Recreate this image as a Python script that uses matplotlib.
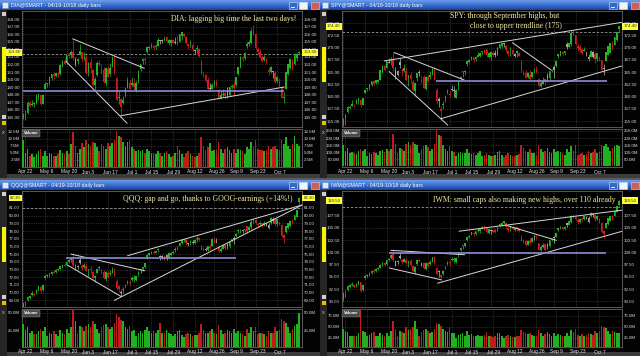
import matplotlib.pyplot as plt
import numpy as np
import pandas as pd
import matplotlib.transforms as mtransforms
from matplotlib.patches import Rectangle
from matplotlib.colors import LinearSegmentedColormap
from matplotlib.ticker import FuncFormatter

plt.rcParams['font.family'] = ['Liberation Sans', 'DejaVu Sans']

# trading days 04/19 - 10/18 (2013)
holidays = ['2013-05-27', '2013-07-04', '2013-09-02']
days = pd.bdate_range('2013-04-19', '2013-10-18', freq='C', holidays=holidays)
date_labels = ['2013-04-22', '2013-05-06', '2013-05-20', '2013-06-03', '2013-06-17',
               '2013-07-01', '2013-07-15', '2013-07-29', '2013-08-12', '2013-08-26',
               '2013-09-09', '2013-09-23', '2013-10-07']

# ---- DIA ----
dia_open = [144.9, 145.2, 145.5, 146.9, 146.6, 146.7, 146.9, 147.9, 148.0, 146.8,
            148.8, 149.4, 149.5, 150.2, 150.7, 150.5, 150.8, 150.7, 151.8, 152.5,
            152.3, 153.2, 153.2, 153.7, 152.0, 152.4, 153.3, 153.6, 152.8, 152.8,
            151.0, 152.3, 151.3, 149.3, 150.6, 152.2, 151.4, 151.3, 149.6, 151.4,
            150.7, 151.6, 152.9, 150.2, 147.6, 147.4, 146.9, 147.8, 148.9, 149.6,
            149.3, 149.5, 148.6, 150.2, 151.4, 152.4, 152.7, 153.6, 154.2, 154.4,
            154.5, 154.3, 154.5, 155.1, 155.2, 155.2, 155.6, 154.9, 154.9, 155.2,
            155.0, 155.0, 155.0, 155.8, 156.1, 155.7, 154.7, 154.7, 154.6, 153.8,
            154.0, 154.1, 152.5, 150.8, 150.6, 149.9, 148.8, 148.8, 149.4, 149.7,
            148.6, 147.5, 147.9, 148.2, 148.5, 148.0, 149.0, 149.3, 149.3, 150.8,
            151.6, 152.9, 152.8, 154.5, 154.7, 154.9, 156.6, 156.0, 154.1, 153.7,
            153.0, 152.6, 152.7, 151.3, 151.0, 151.0, 150.9, 149.8, 149.8, 149.0,
            147.6, 148.8, 150.8, 151.5, 152.6, 152.0, 152.8, 153.5]
dia_high = [145.6, 145.9, 147.2, 147.1, 147.3, 147.0, 148.1, 148.2, 148.1, 148.1,
            149.7, 149.6, 150.4, 150.8, 151.0, 150.9, 151.0, 152.0, 152.6, 152.8,
            153.3, 153.6, 153.9, 155.3, 153.0, 152.8, 154.7, 153.7, 153.6, 153.2,
            152.3, 152.8, 151.4, 150.3, 152.4, 152.6, 152.0, 151.6, 151.6, 151.8,
            152.2, 153.1, 153.1, 150.4, 148.6, 147.5, 147.8, 149.0, 150.3, 150.0,
            150.3, 150.2, 149.8, 151.3, 152.1, 152.9, 153.0, 154.4, 154.5, 154.8,
            154.6, 154.7, 155.5, 155.3, 155.4, 155.8, 155.8, 155.4, 155.4, 155.4,
            155.6, 155.9, 156.1, 156.3, 156.2, 155.8, 154.8, 155.2, 154.9, 154.1,
            154.6, 154.2, 152.6, 151.1, 150.9, 150.3, 149.6, 149.5, 149.9, 150.1,
            148.7, 148.5, 148.7, 148.3, 149.0, 149.1, 149.4, 149.8, 150.4, 151.7,
            153.1, 153.1, 153.6, 155.0, 155.2, 156.9, 157.3, 156.2, 154.3, 154.0,
            153.3, 153.3, 152.9, 151.7, 151.8, 151.2, 151.1, 150.5, 150.2, 149.2,
            148.3, 151.0, 152.1, 152.8, 152.7, 153.5, 153.5, 153.8]
dia_low = [144.7, 144.6, 145.4, 146.4, 146.5, 146.3, 146.8, 147.3, 146.6, 146.7,
           148.7, 149.0, 149.3, 150.0, 150.1, 150.3, 150.3, 150.6, 151.6, 151.9,
           152.0, 152.9, 152.8, 152.6, 151.8, 152.0, 153.2, 152.3, 152.6, 150.8,
           150.5, 150.9, 149.2, 148.6, 150.5, 151.8, 150.7, 149.6, 149.2, 150.3,
           150.5, 151.6, 150.7, 147.2, 146.8, 145.2, 146.7, 147.7, 148.9, 148.7,
           149.1, 148.6, 148.3, 149.6, 151.1, 152.0, 152.1, 153.5, 153.9, 154.2,
           153.9, 154.0, 154.4, 154.7, 154.9, 155.1, 154.8, 154.6, 154.4, 154.8,
           154.7, 154.6, 155.0, 155.3, 155.6, 154.7, 154.0, 154.3, 153.8, 153.4,
           153.5, 153.0, 150.7, 150.3, 149.7, 148.6, 148.5, 148.7, 149.0, 149.1,
           147.4, 147.4, 147.7, 147.4, 147.6, 147.8, 148.8, 147.9, 149.2, 150.6,
           151.5, 152.5, 152.6, 154.2, 154.5, 154.7, 155.9, 154.1, 153.4, 152.8,
           152.3, 152.4, 152.1, 150.6, 150.9, 150.2, 149.5, 149.5, 149.0, 147.5,
           146.9, 148.7, 150.6, 151.4, 151.3, 151.9, 152.5, 153.2]
dia_close = [145.2, 145.4, 146.9, 146.5, 146.7, 146.8, 147.9, 148.1, 146.7, 148.0,
             149.4, 149.4, 150.3, 150.7, 150.5, 150.9, 150.6, 151.9, 152.5, 152.0,
             153.2, 153.1, 153.6, 152.8, 152.6, 152.7, 153.8, 152.7, 152.9, 150.9,
             152.2, 151.5, 149.3, 150.1, 152.2, 152.1, 150.9, 149.7, 151.5, 150.4,
             151.5, 152.9, 150.8, 147.3, 147.7, 146.3, 147.3, 148.8, 149.9, 148.8,
             149.5, 149.0, 149.6, 151.1, 152.0, 152.7, 152.6, 154.3, 154.3, 154.5,
             154.2, 154.4, 155.2, 155.1, 155.1, 155.4, 155.1, 155.2, 155.3, 154.9,
             154.9, 154.7, 156.0, 156.3, 155.8, 154.9, 154.4, 154.7, 154.0, 153.9,
             154.2, 153.1, 150.8, 150.5, 149.8, 148.7, 148.7, 149.3, 149.8, 149.2,
             147.5, 148.0, 148.1, 147.8, 148.0, 149.0, 149.1, 148.9, 150.3, 151.6,
             153.0, 152.7, 153.5, 154.7, 155.0, 156.5, 156.1, 154.2, 153.7, 153.0,
             152.4, 153.0, 152.3, 151.0, 151.6, 151.0, 149.7, 150.4, 149.1, 147.5,
             147.7, 151.0, 152.1, 152.7, 151.4, 153.4, 153.4, 153.6]
dia_volume = [9.5, 5.0, 6.5, 4.0, 4.5, 3.5, 4.5, 5.5, 6.5, 4.0,
              5.5, 4.0, 5.0, 4.5, 4.0, 4.0, 4.5, 6.0, 5.0, 4.5,
              5.5, 4.5, 8.0, 12.3, 7.5, 5.0, 6.5, 8.5, 7.0, 9.5,
              8.0, 7.5, 9.0, 8.5, 7.0, 5.5, 8.0, 7.5, 6.5, 8.5,
              7.5, 8.5, 9.5, 12.8, 11.0, 10.5, 9.0, 7.5, 9.0, 9.5,
              7.0, 6.5, 5.5, 6.0, 5.5, 6.0, 5.0, 6.5, 5.5, 5.0,
              5.0, 4.5, 5.5, 5.0, 4.0, 5.0, 5.5, 4.5, 3.5, 4.0,
              5.0, 7.5, 6.0, 4.5, 3.5, 5.0, 5.5, 4.5, 4.0, 3.5,
              4.0, 5.0, 10.5, 7.5, 6.0, 7.0, 8.5, 5.5, 6.0, 6.0,
              9.0, 6.5, 5.0, 6.5, 7.0, 6.0, 5.0, 6.5, 5.0, 6.5,
              6.0, 5.5, 4.5, 7.0, 6.5, 9.0, 7.0, 9.5, 6.5, 6.0,
              6.0, 5.5, 6.0, 7.5, 6.5, 7.0, 7.5, 6.5, 6.0, 9.5,
              8.0, 10.5, 7.5, 6.5, 8.0, 11.0, 8.0, 7.5]

# ---- SPY ----
spy_open = [154.2, 155.6, 156.9, 157.7, 158.0, 158.3, 158.6, 159.3, 159.4, 158.3,
            160.8, 161.5, 161.8, 162.3, 163.1, 162.8, 163.0, 163.5, 165.0, 166.2,
            165.9, 166.9, 167.2, 167.4, 164.2, 164.5, 167.0, 165.4, 165.3, 165.3,
            163.9, 164.5, 163.0, 161.2, 163.8, 165.0, 163.5, 164.1, 161.6, 164.0,
            164.1, 164.5, 165.7, 161.3, 159.6, 157.4, 158.3, 159.6, 161.0, 160.6,
            161.4, 161.2, 159.8, 162.5, 163.8, 165.0, 165.0, 166.6, 167.0, 167.7,
            168.0, 167.7, 168.2, 168.3, 169.2, 169.5, 169.8, 168.2, 168.1, 168.9,
            168.9, 168.8, 169.9, 170.3, 170.7, 170.4, 169.3, 169.5, 169.5, 168.4,
            169.0, 169.0, 167.1, 165.1, 164.8, 164.0, 164.5, 164.1, 165.5, 165.4,
            163.6, 162.2, 162.6, 163.6, 164.2, 163.8, 165.2, 166.0, 166.2, 168.4,
            168.6, 169.2, 169.0, 170.8, 170.1, 170.8, 173.0, 172.6, 170.4, 170.2,
            169.7, 169.4, 168.9, 167.6, 168.2, 168.2, 168.8, 167.6, 167.7, 167.4,
            165.9, 167.3, 168.6, 169.0, 170.7, 170.6, 171.5, 173.8]
spy_high = [155.6, 156.4, 158.0, 158.3, 159.3, 158.6, 159.6, 159.7, 159.5, 159.8,
            161.6, 161.8, 162.5, 163.2, 163.5, 163.4, 163.6, 165.5, 166.4, 166.6,
            167.3, 167.8, 168.2, 169.1, 166.1, 165.4, 167.8, 165.8, 166.6, 166.1,
            164.5, 165.0, 163.4, 162.7, 164.8, 165.4, 164.4, 164.5, 164.3, 164.4,
            165.2, 165.9, 166.0, 161.8, 159.9, 158.0, 159.1, 160.3, 161.6, 161.1,
            162.4, 162.1, 161.5, 163.2, 164.3, 165.3, 165.5, 167.2, 167.6, 168.3,
            168.1, 168.3, 169.1, 169.2, 169.3, 169.8, 169.8, 169.2, 169.2, 169.3,
            169.6, 170.1, 170.8, 171.0, 170.9, 170.5, 169.5, 170.1, 169.8, 168.9,
            169.6, 169.1, 167.4, 165.4, 165.4, 165.1, 165.4, 165.1, 165.8, 166.3,
            163.9, 163.3, 164.1, 163.7, 164.9, 165.3, 165.7, 166.4, 167.5, 168.8,
            169.4, 169.3, 169.4, 171.1, 171.0, 173.6, 173.6, 172.6, 170.7, 170.7,
            170.0, 170.2, 169.2, 168.7, 169.5, 169.3, 169.2, 169.0, 168.4, 167.5,
            166.6, 169.1, 170.3, 171.0, 171.3, 172.1, 173.3, 174.4]
spy_low = [154.1, 154.3, 156.6, 157.4, 158.0, 157.8, 158.5, 158.6, 157.8, 158.2,
           160.8, 161.1, 161.4, 162.1, 162.4, 162.5, 162.8, 163.5, 164.9, 165.2,
           165.8, 166.8, 166.5, 165.3, 163.7, 164.3, 165.9, 164.2, 165.1, 163.4,
           162.2, 162.7, 161.1, 160.1, 163.3, 164.3, 162.7, 161.7, 161.3, 162.9,
           163.6, 164.5, 163.4, 158.5, 157.9, 155.7, 157.4, 159.0, 160.6, 159.9,
           161.1, 159.9, 159.7, 161.4, 163.2, 164.1, 164.5, 166.2, 166.8, 167.5,
           167.0, 167.3, 168.1, 168.1, 168.6, 168.8, 168.1, 167.8, 167.5, 168.2,
           168.2, 168.6, 169.8, 169.9, 170.2, 169.2, 168.3, 168.4, 168.5, 168.0,
           168.1, 168.3, 165.1, 164.4, 163.8, 163.8, 163.4, 163.9, 164.8, 164.9,
           162.0, 162.0, 162.5, 162.3, 162.9, 163.2, 165.0, 163.8, 166.1, 167.9,
           168.4, 168.5, 168.5, 169.8, 170.0, 170.3, 172.6, 170.6, 169.4, 169.2,
           168.8, 169.3, 168.4, 167.3, 168.1, 167.9, 166.8, 167.2, 167.3, 165.4,
           164.5, 167.2, 168.5, 168.9, 169.6, 170.5, 171.3, 173.3]
spy_close = [155.5, 156.2, 157.8, 157.8, 158.5, 158.2, 159.3, 159.7, 158.2, 159.7,
             161.4, 161.7, 162.5, 163.2, 162.6, 163.4, 163.4, 165.4, 166.3, 165.4,
             167.2, 167.0, 167.3, 165.9, 165.5, 165.3, 166.5, 165.2, 165.8, 163.5,
             164.4, 163.6, 161.3, 162.7, 164.8, 164.8, 163.1, 161.8, 164.1, 163.2,
             164.4, 165.7, 163.4, 159.1, 159.1, 157.1, 158.6, 160.1, 161.1, 160.4,
             161.3, 161.2, 161.3, 163.0, 164.0, 165.2, 165.2, 167.2, 167.5, 168.1,
             167.5, 168.0, 168.6, 168.9, 169.2, 168.9, 168.5, 169.0, 169.1, 168.5,
             168.5, 168.7, 170.7, 171.0, 170.7, 169.6, 168.7, 169.7, 168.8, 168.7,
             169.3, 168.4, 165.2, 164.5, 163.8, 164.8, 163.6, 165.1, 165.7, 165.0,
             162.1, 162.8, 163.1, 163.0, 163.8, 165.2, 165.4, 165.5, 167.3, 168.7,
             169.3, 168.8, 169.3, 170.1, 170.9, 173.0, 172.8, 170.7, 169.9, 169.5,
             169.0, 169.6, 168.9, 168.0, 169.3, 169.2, 167.6, 168.9, 167.4, 165.5,
             165.6, 169.1, 170.3, 171.0, 169.7, 172.1, 173.3, 174.4]
spy_volume = [150, 110, 130, 95, 100, 90, 85, 105, 120, 110,
              120, 70, 95, 85, 100, 90, 80, 110, 115, 100,
              125, 110, 120, 230, 160, 90, 130, 120, 105, 160,
              170, 150, 175, 160, 150, 90, 120, 140, 150, 135,
              110, 120, 155, 255, 220, 215, 150, 120, 110, 140,
              105, 100, 70, 95, 100, 95, 95, 120, 90, 85,
              95, 80, 90, 110, 70, 80, 95, 80, 75, 70,
              80, 100, 110, 80, 65, 80, 90, 80, 75, 70,
              80, 85, 150, 130, 110, 100, 120, 90, 95, 80,
              150, 120, 100, 110, 130, 100, 90, 120, 100, 110,
              100, 90, 80, 120, 100, 140, 110, 150, 80, 85,
              90, 80, 85, 110, 90, 100, 120, 95, 100, 150,
              145, 160, 135, 110, 130, 145, 150, 140]

# ---- QQQ ----
qqq_open = [68.0, 68.6, 69.0, 69.3, 69.7, 69.8, 69.9, 70.4, 70.7, 70.3,
            71.9, 72.1, 72.4, 72.4, 72.7, 72.7, 72.9, 73.1, 73.3, 73.6,
            73.6, 74.0, 74.3, 74.4, 73.0, 73.3, 74.2, 73.5, 73.3, 73.4,
            72.9, 73.1, 72.7, 71.9, 72.6, 73.2, 72.7, 72.7, 71.8, 72.6,
            72.4, 72.6, 73.1, 71.5, 70.9, 70.0, 70.4, 70.9, 71.2, 71.3,
            71.6, 71.8, 71.6, 72.4, 73.0, 73.1, 73.3, 74.6, 74.9, 75.2,
            75.3, 75.2, 75.5, 74.6, 74.8, 74.7, 74.9, 74.5, 74.9, 75.2,
            75.5, 75.7, 76.1, 76.5, 76.8, 76.8, 76.3, 76.6, 76.5, 76.4,
            76.9, 77.1, 76.1, 75.6, 75.6, 75.5, 75.9, 76.1, 77.0, 76.7,
            75.9, 75.4, 75.7, 76.2, 76.3, 76.0, 76.7, 77.1, 77.3, 78.0,
            78.0, 78.0, 78.1, 78.6, 78.1, 78.5, 79.3, 79.4, 78.9, 78.9,
            79.0, 78.8, 78.8, 78.4, 79.0, 79.3, 79.6, 78.9, 79.0, 78.8,
            77.5, 77.9, 78.4, 78.6, 79.3, 79.4, 79.8, 81.8]
qqq_high = [68.7, 68.9, 69.5, 69.7, 70.2, 69.9, 70.5, 70.9, 70.8, 71.1,
            72.3, 72.4, 72.5, 72.8, 73.0, 73.1, 73.2, 73.5, 73.7, 73.8,
            74.1, 74.4, 74.6, 75.1, 73.8, 73.6, 74.6, 73.7, 73.9, 73.8,
            73.1, 73.5, 72.8, 72.3, 73.2, 73.4, 73.1, 72.9, 72.8, 72.8,
            72.9, 73.3, 73.2, 71.8, 71.0, 70.3, 70.7, 71.1, 71.6, 71.6,
            72.1, 72.3, 72.2, 72.8, 73.1, 73.4, 73.9, 75.0, 75.2, 75.4,
            75.5, 75.5, 75.8, 74.9, 74.9, 74.8, 75.0, 75.2, 75.3, 75.5,
            75.9, 76.0, 76.6, 76.9, 77.0, 76.9, 76.5, 76.8, 76.8, 76.9,
            77.3, 77.2, 76.2, 75.9, 75.9, 76.1, 76.3, 77.1, 77.2, 77.1,
            76.0, 75.9, 76.3, 76.3, 76.5, 76.7, 77.0, 77.3, 77.7, 78.2,
            78.2, 78.3, 78.3, 78.7, 78.6, 79.4, 79.6, 79.5, 79.1, 79.3,
            79.1, 79.3, 79.1, 79.0, 79.8, 79.8, 79.7, 79.5, 79.3, 78.9,
            77.6, 78.6, 79.1, 79.4, 79.6, 80.1, 80.8, 82.4]
qqq_low = [67.9, 68.2, 68.9, 69.2, 69.6, 69.5, 69.8, 70.2, 70.0, 70.2,
           71.8, 72.0, 72.0, 72.3, 72.5, 72.6, 72.8, 73.0, 73.2, 73.3,
           73.5, 73.9, 74.0, 73.4, 72.9, 73.1, 73.7, 73.0, 73.2, 72.8,
           72.2, 72.6, 71.8, 71.4, 72.5, 72.9, 72.4, 71.8, 71.5, 71.9,
           72.1, 72.5, 72.1, 70.4, 70.1, 69.6, 70.0, 70.6, 71.1, 71.0,
           71.5, 71.4, 71.5, 72.2, 72.6, 72.8, 73.2, 74.4, 74.8, 75.0,
           75.0, 75.1, 75.3, 74.3, 74.4, 74.2, 74.3, 74.4, 74.7, 75.0,
           75.3, 75.5, 76.0, 76.3, 76.6, 76.2, 76.0, 76.2, 76.3, 76.3,
           76.6, 76.7, 75.5, 75.4, 75.4, 75.4, 75.6, 76.0, 76.5, 76.5,
           75.3, 75.3, 75.7, 75.5, 75.7, 75.8, 76.6, 76.3, 77.2, 77.8,
           77.8, 77.8, 77.9, 77.8, 78.0, 78.2, 79.1, 78.9, 78.5, 78.7,
           78.5, 78.7, 78.6, 78.3, 78.9, 79.1, 78.6, 78.7, 78.8, 77.2,
           76.5, 77.8, 78.3, 78.5, 78.9, 79.4, 79.8, 81.5]
qqq_close = [68.6, 68.8, 69.4, 69.5, 69.9, 69.7, 70.4, 70.8, 70.2, 71.0,
             72.1, 72.3, 72.4, 72.7, 72.6, 73.0, 73.1, 73.4, 73.6, 73.4,
             74.0, 74.2, 74.3, 73.6, 73.6, 73.5, 73.8, 73.2, 73.6, 72.8,
             73.0, 72.9, 71.9, 72.2, 73.1, 73.2, 72.5, 71.9, 72.7, 72.0,
             72.5, 73.1, 72.2, 70.6, 70.5, 70.0, 70.5, 70.9, 71.4, 71.2,
             71.9, 71.9, 72.1, 72.7, 72.9, 73.3, 73.8, 74.9, 75.1, 75.3,
             75.1, 75.4, 75.6, 74.6, 74.6, 74.3, 74.5, 75.1, 75.2, 75.3,
             75.6, 75.7, 76.5, 76.8, 76.9, 76.4, 76.3, 76.6, 76.5, 76.8,
             77.1, 76.8, 75.6, 75.5, 75.5, 76.0, 75.8, 76.9, 76.6, 76.6,
             75.4, 75.7, 76.1, 75.8, 76.0, 76.6, 76.9, 77.0, 77.6, 78.1,
             78.1, 78.0, 78.2, 78.0, 78.5, 79.2, 79.4, 79.0, 78.8, 79.0,
             78.6, 79.1, 78.9, 78.8, 79.7, 79.6, 78.9, 79.5, 78.9, 77.3,
             77.1, 78.6, 79.0, 79.3, 79.0, 80.1, 80.7, 82.3]
qqq_volume = [35, 26, 30, 22, 25, 20, 20, 25, 28, 24,
              30, 18, 22, 20, 24, 20, 18, 26, 22, 20,
              28, 22, 30, 55, 38, 22, 32, 30, 25, 32,
              35, 30, 38, 35, 28, 22, 30, 33, 35, 30,
              28, 30, 36, 49, 45, 40, 38, 30, 28, 32,
              25, 26, 18, 22, 24, 22, 26, 30, 24, 22,
              24, 22, 26, 36, 22, 22, 26, 22, 20, 18,
              20, 24, 26, 19, 16, 20, 22, 21, 18, 19,
              19, 22, 34, 26, 22, 22, 25, 28, 22, 20,
              33, 26, 20, 22, 26, 24, 22, 28, 22, 25,
              22, 20, 18, 28, 22, 30, 24, 30, 20, 22,
              22, 20, 18, 24, 22, 22, 30, 24, 26, 42,
              38, 36, 30, 22, 28, 32, 35, 50]

# ---- IWM ----
iwm_open = [90.4, 91.8, 92.3, 93.0, 93.4, 93.4, 93.2, 93.6, 93.9, 92.3,
            94.8, 95.1, 95.5, 95.8, 96.2, 96.1, 96.5, 96.8, 97.4, 97.8,
            97.7, 98.4, 98.8, 99.6, 97.5, 98.0, 99.3, 98.5, 98.1, 98.4,
            97.9, 98.2, 97.3, 96.0, 97.6, 98.5, 97.4, 97.8, 96.5, 97.8,
            97.7, 98.1, 99.0, 96.8, 96.0, 95.3, 95.6, 96.7, 97.6, 97.9,
            98.4, 98.4, 98.0, 99.5, 100.4, 101.2, 101.2, 102.6, 103.1, 103.6,
            104.0, 103.8, 104.4, 104.4, 104.9, 105.3, 105.0, 103.9, 104.3, 104.5,
            104.5, 104.4, 105.3, 105.6, 105.9, 106.0, 104.9, 105.1, 105.0, 104.5,
            105.2, 104.9, 103.4, 102.3, 102.2, 101.5, 102.2, 102.1, 103.2, 103.0,
            101.8, 100.5, 101.0, 101.6, 101.4, 101.3, 102.6, 103.0, 103.2, 104.5,
            104.9, 105.1, 104.8, 105.9, 105.6, 106.2, 107.5, 107.2, 106.6, 106.2,
            106.8, 106.7, 107.0, 106.2, 107.3, 107.6, 107.7, 106.7, 106.7, 105.9,
            104.3, 105.0, 105.8, 106.4, 107.3, 107.4, 108.3, 109.6]
iwm_high = [91.9, 92.3, 93.3, 93.6, 94.0, 93.5, 93.8, 94.2, 94.0, 93.5,
            95.4, 95.5, 95.9, 96.3, 96.5, 96.7, 96.9, 97.6, 98.0, 98.1,
            98.5, 98.9, 99.6, 100.4, 98.5, 98.4, 100.0, 98.7, 98.9, 98.9,
            98.3, 98.6, 97.4, 97.2, 98.5, 98.7, 98.1, 98.0, 98.0, 98.1,
            98.4, 99.1, 99.3, 97.0, 96.3, 95.5, 96.4, 97.3, 98.3, 98.4,
            99.1, 99.0, 99.0, 100.1, 101.0, 101.5, 101.9, 103.2, 103.5, 104.2,
            104.2, 104.4, 104.9, 104.8, 105.3, 105.4, 105.1, 104.8, 104.8, 104.8,
            104.9, 105.4, 105.9, 106.1, 106.4, 106.1, 105.1, 105.4, 105.3, 105.1,
            105.4, 105.0, 103.5, 102.7, 102.6, 102.6, 102.9, 103.1, 103.5, 103.6,
            101.9, 101.4, 101.8, 101.7, 101.9, 102.6, 103.0, 103.3, 104.0, 105.0,
            105.3, 105.2, 105.3, 106.0, 106.4, 107.6, 107.8, 107.4, 106.9, 107.0,
            107.2, 107.5, 107.4, 107.3, 108.2, 108.0, 107.8, 107.6, 107.0, 106.1,
            104.5, 106.0, 107.0, 107.5, 107.7, 108.6, 109.5, 110.6]
iwm_low = [90.0, 90.8, 92.2, 92.7, 93.2, 92.8, 93.0, 93.3, 92.0, 92.2,
           94.6, 94.9, 95.1, 95.6, 95.7, 95.9, 96.3, 96.7, 97.2, 97.2,
           97.5, 98.2, 98.6, 98.2, 97.3, 97.7, 98.7, 97.7, 98.0, 97.7,
           96.9, 97.2, 96.0, 95.6, 97.4, 98.0, 97.2, 96.6, 96.3, 97.1,
           97.4, 98.0, 97.7, 95.4, 95.0, 94.2, 95.3, 96.5, 97.5, 97.5,
           98.2, 97.8, 97.9, 99.0, 100.2, 100.7, 101.0, 102.3, 102.9, 103.5,
           103.4, 103.6, 104.2, 104.0, 104.7, 104.5, 103.9, 103.7, 103.8, 104.0,
           103.9, 104.3, 105.1, 105.3, 105.8, 105.0, 104.2, 104.4, 104.6, 104.4,
           104.4, 104.2, 102.2, 101.9, 101.3, 101.4, 101.6, 102.0, 102.6, 102.7,
           100.4, 100.3, 100.9, 100.2, 100.7, 101.1, 102.4, 101.9, 103.1, 104.3,
           104.7, 104.5, 104.6, 105.2, 105.5, 105.9, 107.0, 106.5, 105.8, 106.0,
           106.3, 106.6, 106.7, 106.0, 107.2, 107.2, 106.3, 106.5, 105.9, 104.0,
           102.9, 104.9, 105.6, 106.3, 106.6, 107.3, 108.2, 109.4]
iwm_close = [91.7, 92.0, 93.1, 93.3, 93.5, 93.0, 93.6, 94.1, 92.2, 93.4,
             95.1, 95.4, 95.8, 96.2, 96.0, 96.6, 96.7, 97.5, 97.9, 97.4,
             98.4, 98.7, 99.4, 98.4, 98.3, 98.2, 98.9, 98.0, 98.7, 97.8,
             98.2, 97.5, 96.1, 97.1, 98.4, 98.3, 97.4, 96.7, 97.9, 97.3,
             98.0, 99.0, 97.8, 95.6, 95.9, 95.0, 96.2, 97.1, 98.1, 97.8,
             98.5, 98.5, 98.9, 100.0, 100.8, 101.3, 101.8, 103.1, 103.4, 104.1,
             103.7, 104.3, 104.6, 104.7, 105.2, 104.7, 104.1, 104.7, 104.6, 104.2,
             104.1, 104.6, 105.8, 106.0, 106.3, 105.2, 104.6, 105.2, 104.8, 105.0,
             104.9, 104.3, 102.3, 102.1, 101.4, 102.4, 101.8, 103.0, 103.1, 102.8,
             100.5, 101.1, 101.4, 100.5, 101.3, 102.5, 102.8, 102.9, 103.9, 104.9,
             105.2, 104.7, 105.2, 105.5, 106.3, 107.4, 107.3, 106.7, 106.1, 106.8,
             106.5, 107.3, 107.1, 107.0, 108.1, 107.8, 106.7, 107.5, 106.0, 104.1,
             103.8, 105.9, 106.9, 107.4, 106.8, 108.5, 109.4, 110.5]
iwm_volume = [45, 40, 38, 30, 30, 28, 30, 35, 95, 40,
              38, 28, 32, 35, 38, 30, 28, 35, 32, 30,
              35, 30, 40, 62, 45, 28, 40, 38, 35, 50,
              42, 45, 50, 64, 45, 30, 38, 42, 45, 40,
              35, 38, 45, 58, 55, 52, 45, 40, 38, 50,
              35, 36, 25, 32, 34, 36, 30, 40, 32, 34,
              30, 28, 32, 30, 28, 32, 38, 30, 28, 26,
              30, 36, 35, 28, 24, 28, 32, 30, 26, 26,
              28, 30, 42, 38, 35, 34, 35, 32, 30, 28,
              42, 36, 30, 34, 38, 34, 30, 36, 30, 34,
              32, 30, 28, 36, 30, 42, 38, 45, 32, 30,
              34, 30, 32, 36, 34, 32, 40, 36, 40, 52,
              50, 48, 40, 34, 40, 38, 36, 35]

# trendlines: (day index, price, day index, price)
dia_lines = [(22.8, 155.4, 55.7, 151.5), (19.7, 152.4, 47.8, 144.2), (45.0, 145.2, 120.1, 149.0)]
spy_lines = [(18.9, 167.3, 128.6, 175.2), (23.5, 169.0, 55.7, 163.4), (21.2, 165.1, 48.1, 154.2),
             (45.0, 155.5, 128.6, 166.3), (78.0, 171.0, 95.6, 165.5)]
qqq_lines = [(22.0, 75.0, 55.8, 72.85), (20.5, 73.55, 45.0, 69.5), (42.0, 69.0, 128.6, 81.4),
             (48.1, 74.8, 128.6, 81.4)]
iwm_lines = [(22.0, 100.4, 55.8, 99.5), (21.2, 96.8, 45.0, 94.4), (43.5, 93.7, 128.6, 104.3),
             (53.4, 104.3, 128.6, 108.6), (75.7, 105.4, 98.1, 102.45)]
# support level (price, from day, to day) and dashed reference level
dia_level, spy_level, qqq_level, iwm_level = (148.5, 0, 120), (163.2, 42.7, 121.7), (74.45, 19.7, 97.9), (99.9, 21.2, 121)
dia_ref, spy_ref, qqq_ref, iwm_ref = 153.4, 173.2, 81.0, 109.2

W, H = 640, 356
GREEN, RED, GRAY = '#22b422', '#d21c1c', '#a8a8a8'
VGREEN, VRED = '#22b022', '#c01c1c'
TXT = '#d8d8d8'

fig = plt.figure(figsize=(6.4, 3.56), dpi=100, facecolor='#000000')
bg = fig.add_axes([0, 0, 1, 1])
bg.set_zorder(0)
bg.axis('off')
bar_cmap = LinearSegmentedColormap.from_list('bar', ['#1a449c', '#3a70d2', '#6a9ae8'])
grad = np.linspace(1, 0, 12).reshape(-1, 1)


def fig_rect(x, y, w, h):
    return [x / W, 1 - (y + h) / H, w / W, h / H]


def chrome(ox, oy, ph, title):
    bg.add_patch(Rectangle((ox, oy), 320, ph, fc='#030303', ec='none', zorder=1))
    bg.imshow(grad, cmap=bar_cmap, extent=(ox, ox + 320, oy + 10, oy), aspect='auto', zorder=1.5)
    bg.add_patch(Rectangle((ox + 2, oy + 2), 6, 6, fc='#dfe8f5', ec='#6a8cc8', lw=0.4, zorder=2))
    bg.text(ox + 11, oy + 5.3, title, fontsize=3.8, color='white', va='center', zorder=3)
    bg.add_patch(Rectangle((ox + 289, oy + 2), 8, 6.5, fc='#3569c8', ec='#cfe0ff', lw=0.4, zorder=2))
    bg.plot([ox + 291, ox + 294], [oy + 7, oy + 7], color='white', lw=0.6, zorder=3)
    bg.add_patch(Rectangle((ox + 299, oy + 2), 8, 6.5, fc='#f4f4f4', ec='#cfe0ff', lw=0.4, zorder=2))
    bg.add_patch(Rectangle((ox + 311, oy + 2), 8, 6.5, fc='#c86060', ec='#f0c8c8', lw=0.4, zorder=2))
    # left strip with scroll thumb
    bg.add_patch(Rectangle((ox, oy + 10), 7, ph - 10, fc='#262626', zorder=2))
    bg.add_patch(Rectangle((ox + 1.5, oy + 12), 4, 4, fc='#d0d0d0', zorder=3))
    bg.add_patch(Rectangle((ox + 1.5, oy + 47), 4, 35, fc='#f5f500', zorder=3))
    bg.add_patch(Rectangle((ox + 1.5, oy + 115), 4, 4, fc='#d0d0d0', zorder=3))
    bg.add_patch(Rectangle((ox + 1.5, oy + 121), 4, 4, fc='#e0c000', zorder=3))
    bg.text(ox + 3.5, oy + 132, 'x', fontsize=4, color='#c0c0c0', ha='center', va='center', zorder=3)
    # bottom scroll strip
    bg.add_patch(Rectangle((ox + 7, oy + ph - 4), 313, 4, fc='#3c3c3c', zorder=2))


def panel(ox, oy, ph, name, o, hi, lo, c, vol, lines, level, ref, ylim, yticks,
          vlim, vticks, notes):
    chrome(ox, oy, ph, name + '@SMART - 04/19-10/18 daily bars')
    o, hi, lo, c, vol = map(np.asarray, (o, hi, lo, c, vol))
    x = np.arange(len(c))
    prev = np.concatenate([[o[0]], c[:-1]])
    cols = np.where((c >= o) & (c >= prev), GREEN, np.where((c < o) & (c < prev), RED, GRAY))

    ax = fig.add_axes(fig_rect(ox + 22, oy + 11, 280, 116))
    ax.set_facecolor('black')
    ax.vlines(x, lo, hi, colors=cols, lw=0.55, zorder=3)
    body = np.maximum(np.abs(c - o), (ylim[1] - ylim[0]) * 0.008)
    ax.bar(x, body, bottom=np.minimum(o, c), width=0.72, color=cols, lw=0, zorder=3)
    for x0, p0, x1, p1 in lines:
        ax.plot([x0, x1], [p0, p1], color='#d8d8d8', lw=0.7, zorder=4)
    ax.hlines(level[0], level[1], level[2], color='#8c8cd8', lw=1.2, zorder=4)
    ax.axhline(ref, color='#9a9a9a', lw=0.6, ls=(0, (3, 2)), zorder=2)

    label_idx = [days.get_loc(pd.Timestamp(d)) for d in date_labels]
    ax.set_xlim(-0.6, 128.4)
    ax.set_ylim(*ylim)
    ax.set_yticks(yticks)
    ax.yaxis.set_major_formatter(FuncFormatter(lambda v, p: f'{v:.2f}'))
    ax.set_xticks(np.array(label_idx) - 1)
    ax.tick_params(axis='x', length=0, labelbottom=False)
    ax.tick_params(axis='y', length=0, labelleft=True, labelright=True, labelsize=3.2,
                   labelcolor=TXT, pad=1.5)
    ax.grid(True, color='#4c4c4c', lw=0.4, ls=(0, (2, 2)), zorder=1)
    for s in ax.spines.values():
        s.set_color('#7a7a7a')
        s.set_linewidth(0.5)

    trans = mtransforms.blended_transform_factory(ax.transAxes, ax.transData)
    for xx, ha in ((-0.005, 'right'), (1.005, 'left')):
        ax.text(xx, c[-1], f'{c[-1]:.2f}', transform=trans, ha=ha, va='center', fontsize=3.2,
                color='#303030', clip_on=False, zorder=6,
                bbox=dict(boxstyle='square,pad=0.3', fc='#ffff30', ec='none'))
    for text, tx, ty, ha in notes:
        ax.text(tx, ty, text, transform=ax.transAxes, ha=ha, va='center', fontsize=5.6,
                color='#eee8a0', family='Liberation Serif', zorder=6)

    axv = fig.add_axes(fig_rect(ox + 22, oy + 129, 280, 38))
    axv.set_facecolor('black')
    vcols = np.where(c >= prev, VGREEN, VRED)
    axv.bar(x, vol, width=0.75, color=vcols, lw=0, zorder=3)
    axv.set_xlim(-0.6, 128.4)
    axv.set_ylim(*vlim)
    axv.set_yticks(vticks)
    axv.yaxis.set_major_formatter(FuncFormatter(lambda v, p: f'{v:.1f}M'))
    axv.set_xticks(label_idx)
    axv.set_xticklabels([pd.Timestamp(d).strftime('%b ') + str(pd.Timestamp(d).day) for d in date_labels])
    axv.tick_params(axis='x', length=0, labelsize=3.5, labelcolor='#e8e8e8', pad=1.8)
    axv.tick_params(axis='y', length=0, labelleft=True, labelright=True, labelsize=3.2,
                    labelcolor=TXT, pad=1.5)
    axv.grid(True, color='#4c4c4c', lw=0.4, ls=(0, (2, 2)), zorder=1)
    for s in axv.spines.values():
        s.set_color('#7a7a7a')
        s.set_linewidth(0.5)
    axv.text(0.006, 0.94, 'Volume', transform=axv.transAxes, fontsize=3, color='white',
             fontweight='bold', va='top', zorder=6,
             bbox=dict(boxstyle='square,pad=0.4', fc='#4a4a4a', ec='#8a8a8a', lw=0.3))


panel(0, 0, 178, 'DIA', dia_open, dia_high, dia_low, dia_close, dia_volume, dia_lines,
      dia_level, dia_ref, (143.7, 159.1), np.arange(145, 158.5, 1.0), (0, 13.45),
      [2.5, 5.0, 7.5, 10.0, 12.5],
      [('DIA: lagging big time the last two days!', 0.979, 0.931, 'right')])
panel(320, 0, 178, 'SPY', spy_open, spy_high, spy_low, spy_close, spy_volume, spy_lines,
      spy_level, spy_ref, (153.8, 177.5), np.arange(155, 176, 2.5), (-6, 264),
      [50, 100, 150, 200, 250],
      [('SPY: through September highs, but', 0.58, 0.955, 'center'),
       ('close to upper trendline (175)', 0.62, 0.87, 'center')])
bg.add_patch(Rectangle((0, 178), 640, 2, fc='#5a5a5a', zorder=2))
panel(0, 180, 176, 'QQQ', qqq_open, qqq_high, qqq_low, qqq_close, qqq_volume, qqq_lines,
      qqq_level, qqq_ref, (68.13, 83.2), np.arange(69, 81.5, 1.0), (2.0, 55.6),
      [25.0, 50.0],
      [('QQQ: gap and go, thanks to GOOG-earnings (+14%!)', 0.967, 0.931, 'right')])
panel(320, 180, 176, 'IWM', iwm_open, iwm_high, iwm_low, iwm_close, iwm_volume, iwm_lines,
      iwm_level, iwm_ref, (88.84, 112.5), np.arange(90, 108, 2.5), (3.9, 90.2),
      [25.0, 50.0, 75.0],
      [('IWM: small caps also making new highs, over 110 already', 0.979, 0.925, 'right')])

bg.set_xlim(0, W)
bg.set_ylim(H, 0)
fig.savefig('out.png', dpi=100, facecolor=fig.get_facecolor())
